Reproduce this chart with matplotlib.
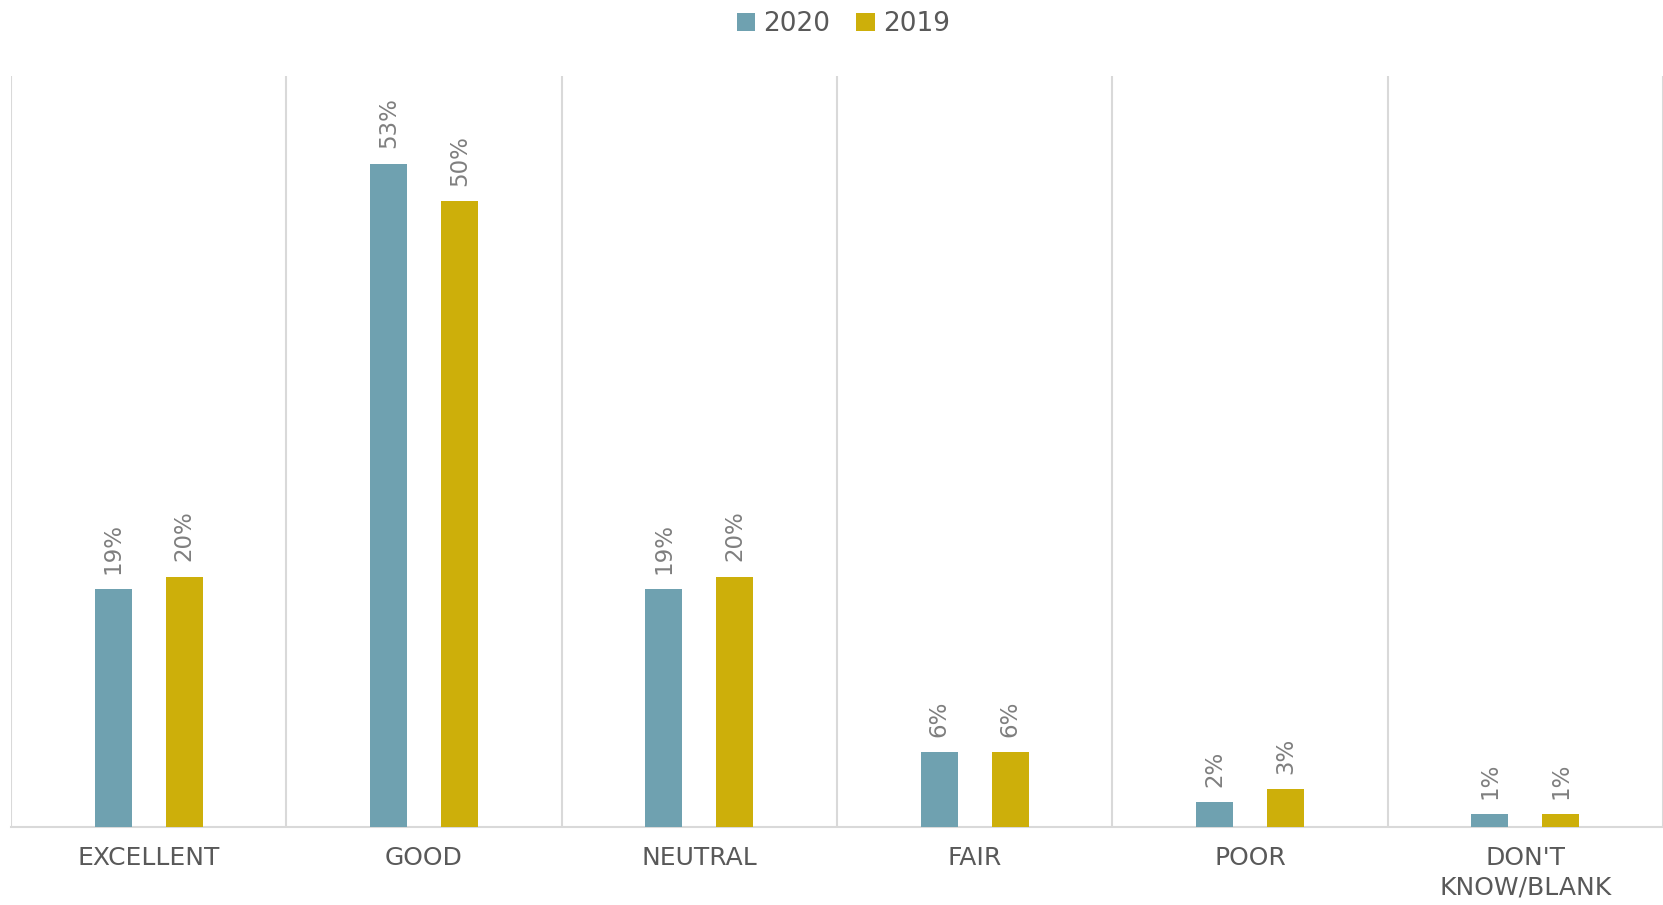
import matplotlib.pyplot as plt
import numpy as np

categories = ["EXCELLENT", "GOOD", "NEUTRAL", "FAIR", "POOR", "DON'T\nKNOW/BLANK"]
series_names = ["2020", "2019"]
values_2020 = [19, 53, 19, 6, 2, 1]
values_2019 = [20, 50, 20, 6, 3, 1]

colors = ["#6FA1B0", "#CDAF0A"]
text_color = "#595959"
label_color = "#7F7F7F"
line_color = "#D9D9D9"

plt.rcParams['font.family'] = ['DejaVu Sans']

fig = plt.figure(figsize=(16.63, 9.05), dpi=100)
ax = fig.add_axes([0.0066, 0.0862, 0.9934, 0.8298])

x = np.arange(len(categories))
width = 0.135
offset = 0.129

for vals, name, col, sign in [(values_2020, series_names[0], colors[0], -1),
                              (values_2019, series_names[1], colors[1], 1)]:
    bars = ax.bar(x + sign * offset, vals, width, color=col, label=name, zorder=3)
    for b, v in zip(bars, vals):
        ax.annotate(f"{v}%", (b.get_x() + b.get_width() / 2, b.get_height()),
                    xytext=(0, 11), textcoords="offset points",
                    rotation=90, ha="center", va="bottom",
                    fontsize=16.5, color=label_color)

# category separators
for b in np.arange(len(categories) + 1) - 0.5:
    ax.axvline(b, color=line_color, linewidth=1.5, zorder=1)

ax.set_xlim(-0.5, len(categories) - 0.5)
ax.set_ylim(0, 60)
ax.set_yticks([])
ax.set_xticks(x)
ax.set_xticklabels(categories, fontsize=18, color=text_color, linespacing=1.25)
ax.tick_params(axis="x", length=0, pad=14)
for s in ["top", "left", "right"]:
    ax.spines[s].set_visible(False)
ax.spines["bottom"].set_color(line_color)
ax.spines["bottom"].set_linewidth(1.5)

fig.legend(loc="upper center", bbox_to_anchor=(0.507, 1.014), ncol=2, frameon=False,
           fontsize=19, handlelength=0.7, handleheight=0.7, handletextpad=0.3,
           columnspacing=1.0, labelcolor=text_color)

fig.savefig("out.png", dpi=100)
